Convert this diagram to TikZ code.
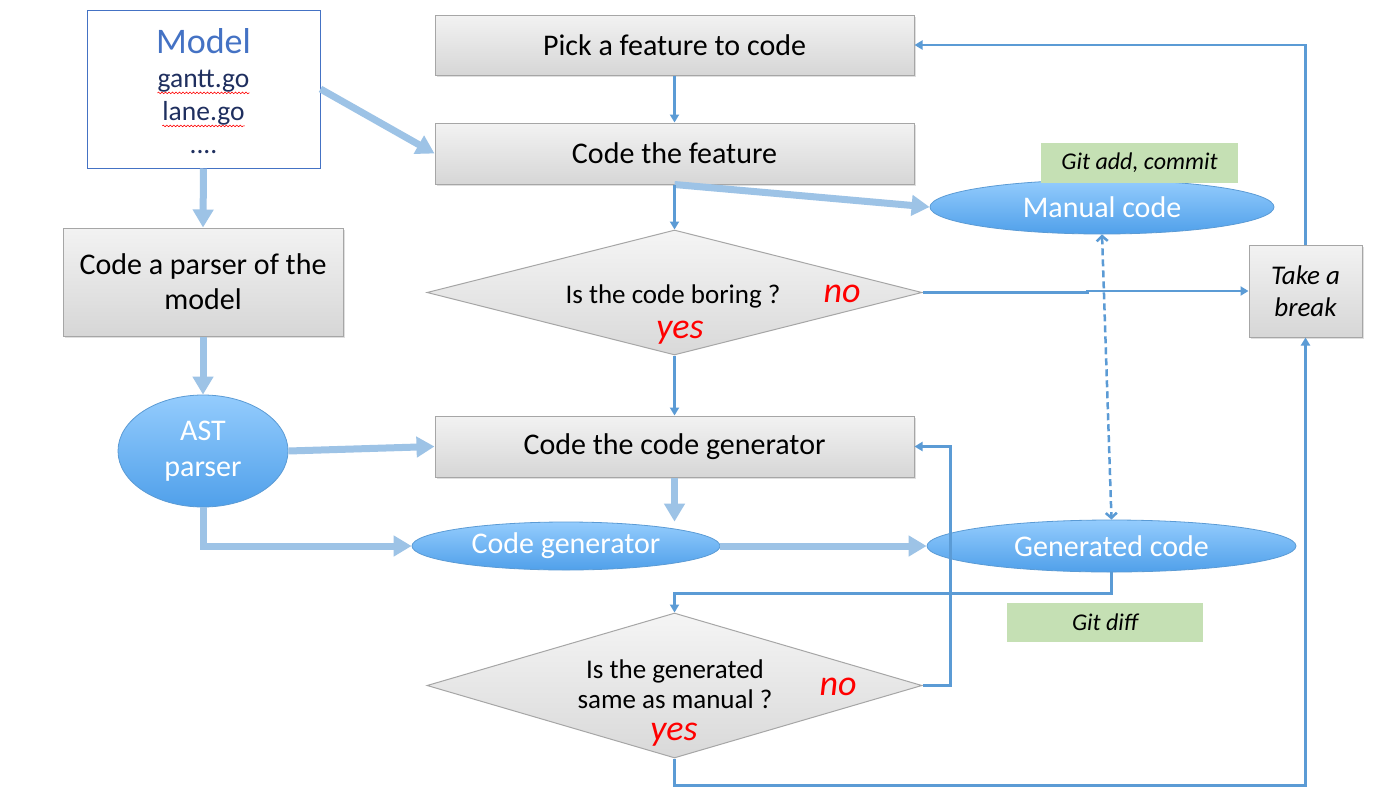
\documentclass[tikz,border=0pt]{standalone}
\usepackage{fontspec}
\setmainfont{Carlito}
\usetikzlibrary{shapes.geometric,arrows.meta,shadows,decorations.pathmorphing}

\definecolor{thinblue}{HTML}{5B9BD5}
\definecolor{thickblue}{HTML}{9DC3E6}
\definecolor{boxborder}{HTML}{A6A6A6}
\definecolor{greenbox}{HTML}{C5E0B4}
\definecolor{ellborder}{HTML}{5B9BD5}
\definecolor{elltop}{HTML}{94CCFD}
\definecolor{ellbot}{HTML}{50A0EA}
\definecolor{modelblue}{HTML}{4472C4}
\definecolor{navytext}{HTML}{1F2F5F}
\definecolor{redtext}{HTML}{FF0000}

\tikzset{
  graybox/.style={rectangle, draw=boxborder, line width=1pt, top color=black!5, bottom color=black!16,
     inner sep=0pt, align=center, font=\fontsize{30}{35}\selectfont,
     drop shadow={opacity=0.25, shadow xshift=1.5pt, shadow yshift=-1.5pt}},
  diam/.style={diamond, draw=boxborder, line width=1pt, top color=black!4, bottom color=black!15, inner sep=0pt},
  oval/.style={ellipse, draw=ellborder, line width=0.8pt, top color=elltop, bottom color=ellbot,
     inner sep=0pt, align=center, text=white, font=\fontsize{30}{36}\selectfont},
  greenlabel/.style={rectangle, fill=greenbox, inner sep=0pt, font=\fontsize{24}{28}\selectfont\itshape},
  qtext/.style={font=\fontsize{27}{31}\selectfont, anchor=base, inner sep=0pt},
  ans/.style={text=redtext, font=\fontsize{36}{40}\selectfont\itshape, anchor=base, inner sep=0pt},
  modeltext/.style={text=navytext, font=\fontsize{27.5}{32}\selectfont, anchor=base, inner sep=0pt},
  thinarrow/.style={draw=thinblue, line width=2.5pt, -{Triangle[length=8pt,width=9pt]}},
  thickarrow/.style={draw=thickblue, line width=7pt, -{Triangle[length=18pt,width=20pt]}},
  spell/.style={draw=redtext, line width=0.6pt, decorate, decoration={snake, amplitude=0.8pt, segment length=3.5pt}}
}

\begin{document}
\begin{tikzpicture}[x=1pt,y=-1pt]
\useasboundingbox (0,0) rectangle (1381,806);
\fill[white] (0,0) rectangle (1381,806);

% Model box
\node[rectangle, draw=modelblue, line width=1pt, fill=white, minimum width=233pt, minimum height=158pt, inner sep=0pt] (model) at (203.5,89) {};
\node[text=modelblue, font=\fontsize{36}{40}\selectfont, anchor=base, inner sep=0pt] (modeltitle) at (203.5,53) {Model};
\node[modeltext] (gantt) at (203.5,87) {gantt.go};
\node[modeltext] (lane) at (203.5,120) {lane.go};
\node[modeltext] (dots) at (203.5,153) {....};
\draw[spell] ([yshift=-1pt]gantt.south west) -- ([yshift=-1pt]gantt.south east);
\draw[spell] ([yshift=-1pt]lane.south west) -- ([yshift=-1pt]lane.south east);

% Gray boxes
\node[graybox, minimum width=479pt, minimum height=60pt] (pick) at (674.5,45) {Pick a feature to code};
\node[graybox, minimum width=479pt, minimum height=61pt] (feat) at (674.5,153.5) {Code the feature};
\node[graybox, minimum width=479pt, minimum height=61pt] (cgen) at (674.5,446.5) {Code the code generator};
\node[graybox, minimum width=280pt, minimum height=108pt] (parser) at (203,282) {Code a parser of the\\model};
\node[graybox, minimum width=113pt, minimum height=92pt, font=\fontsize{27}{32}\selectfont\itshape] (brk) at (1305.5,291) {Take a\\break};

% Diamonds
\node[diam, minimum width=495pt, minimum height=125pt] (d1) at (674.5,292.5) {};
\node[qtext] (d1q) at (673,303) {Is the code boring ?};
\node[ans] (d1no) at (842,302) {no};
\node[ans] (d1yes) at (680,338) {yes};

\node[diam, minimum width=495pt, minimum height=145pt] (d2) at (674.5,685.5) {};
\node[qtext] (d2q1) at (675,678) {Is the generated};
\node[qtext] (d2q2) at (675,708) {same as manual ?};
\node[ans] (d2no) at (838,695) {no};
\node[ans] (d2yes) at (674,740) {yes};

% Ellipses
\node[oval, minimum width=344pt, minimum height=54pt] (manual) at (1102,207) {Manual code};
\node[oval, minimum width=369pt, minimum height=52pt] (gen) at (1111.5,546) {Generated code};
\node[oval, minimum width=308pt, minimum height=48pt] (codegen) at (566,546) {Code generator};
\node[oval, minimum width=170pt, minimum height=112pt] (ast) at (203,451) {AST\\parser};

% Green labels
\node[greenlabel, minimum width=197pt, minimum height=40pt] (gitadd) at (1139.5,163) {\raisebox{-3pt}{Git add, commit}};
\node[greenlabel, minimum width=196pt, minimum height=39pt] (gitdiff) at (1105,622.5) {Git diff};

% Thick arrows
\draw[thickarrow] (model.east) -- (feat.west);
\draw[thickarrow] (model.south) -- (parser.north);
\draw[thickarrow] (parser.south) -- (ast.north);
\draw[thickarrow] (ast.east) -- (cgen.west);
\draw[thickarrow] (ast.south) |- (codegen.west);
\draw[thickarrow] (cgen.south) -- (cgen.south |- codegen.north);
\draw[thickarrow] (codegen.east) -- (gen.west);
\draw[thickarrow] (feat.south) -- (manual.west);

% Thin arrows
\draw[thinarrow] (pick.south) -- (feat.north);
\draw[thinarrow] (feat.south) -- (d1.north);
\draw[thinarrow] (d1.south) -- (cgen.north);
\draw[thinarrow] (d1.east) -- ++(165,0) |- (brk.west);
\draw[thinarrow] (brk.north) |- (pick.east);
\draw[thinarrow] (d2.south) -- ++(0,27) -| (brk.south);
\draw[thinarrow] (d2.east) -- ++(28,0) |- (cgen.east);
\draw[thinarrow] (gen.south) -- ++(0,21) -| (d2.north);
\draw[draw=thinblue, line width=2.5pt, dash pattern=on 7pt off 4pt, {Straight Barb[length=5pt,width=11pt]}-{Straight Barb[length=5pt,width=11pt]}] (manual.south) -- (gen.north);
\end{tikzpicture}
\end{document}
